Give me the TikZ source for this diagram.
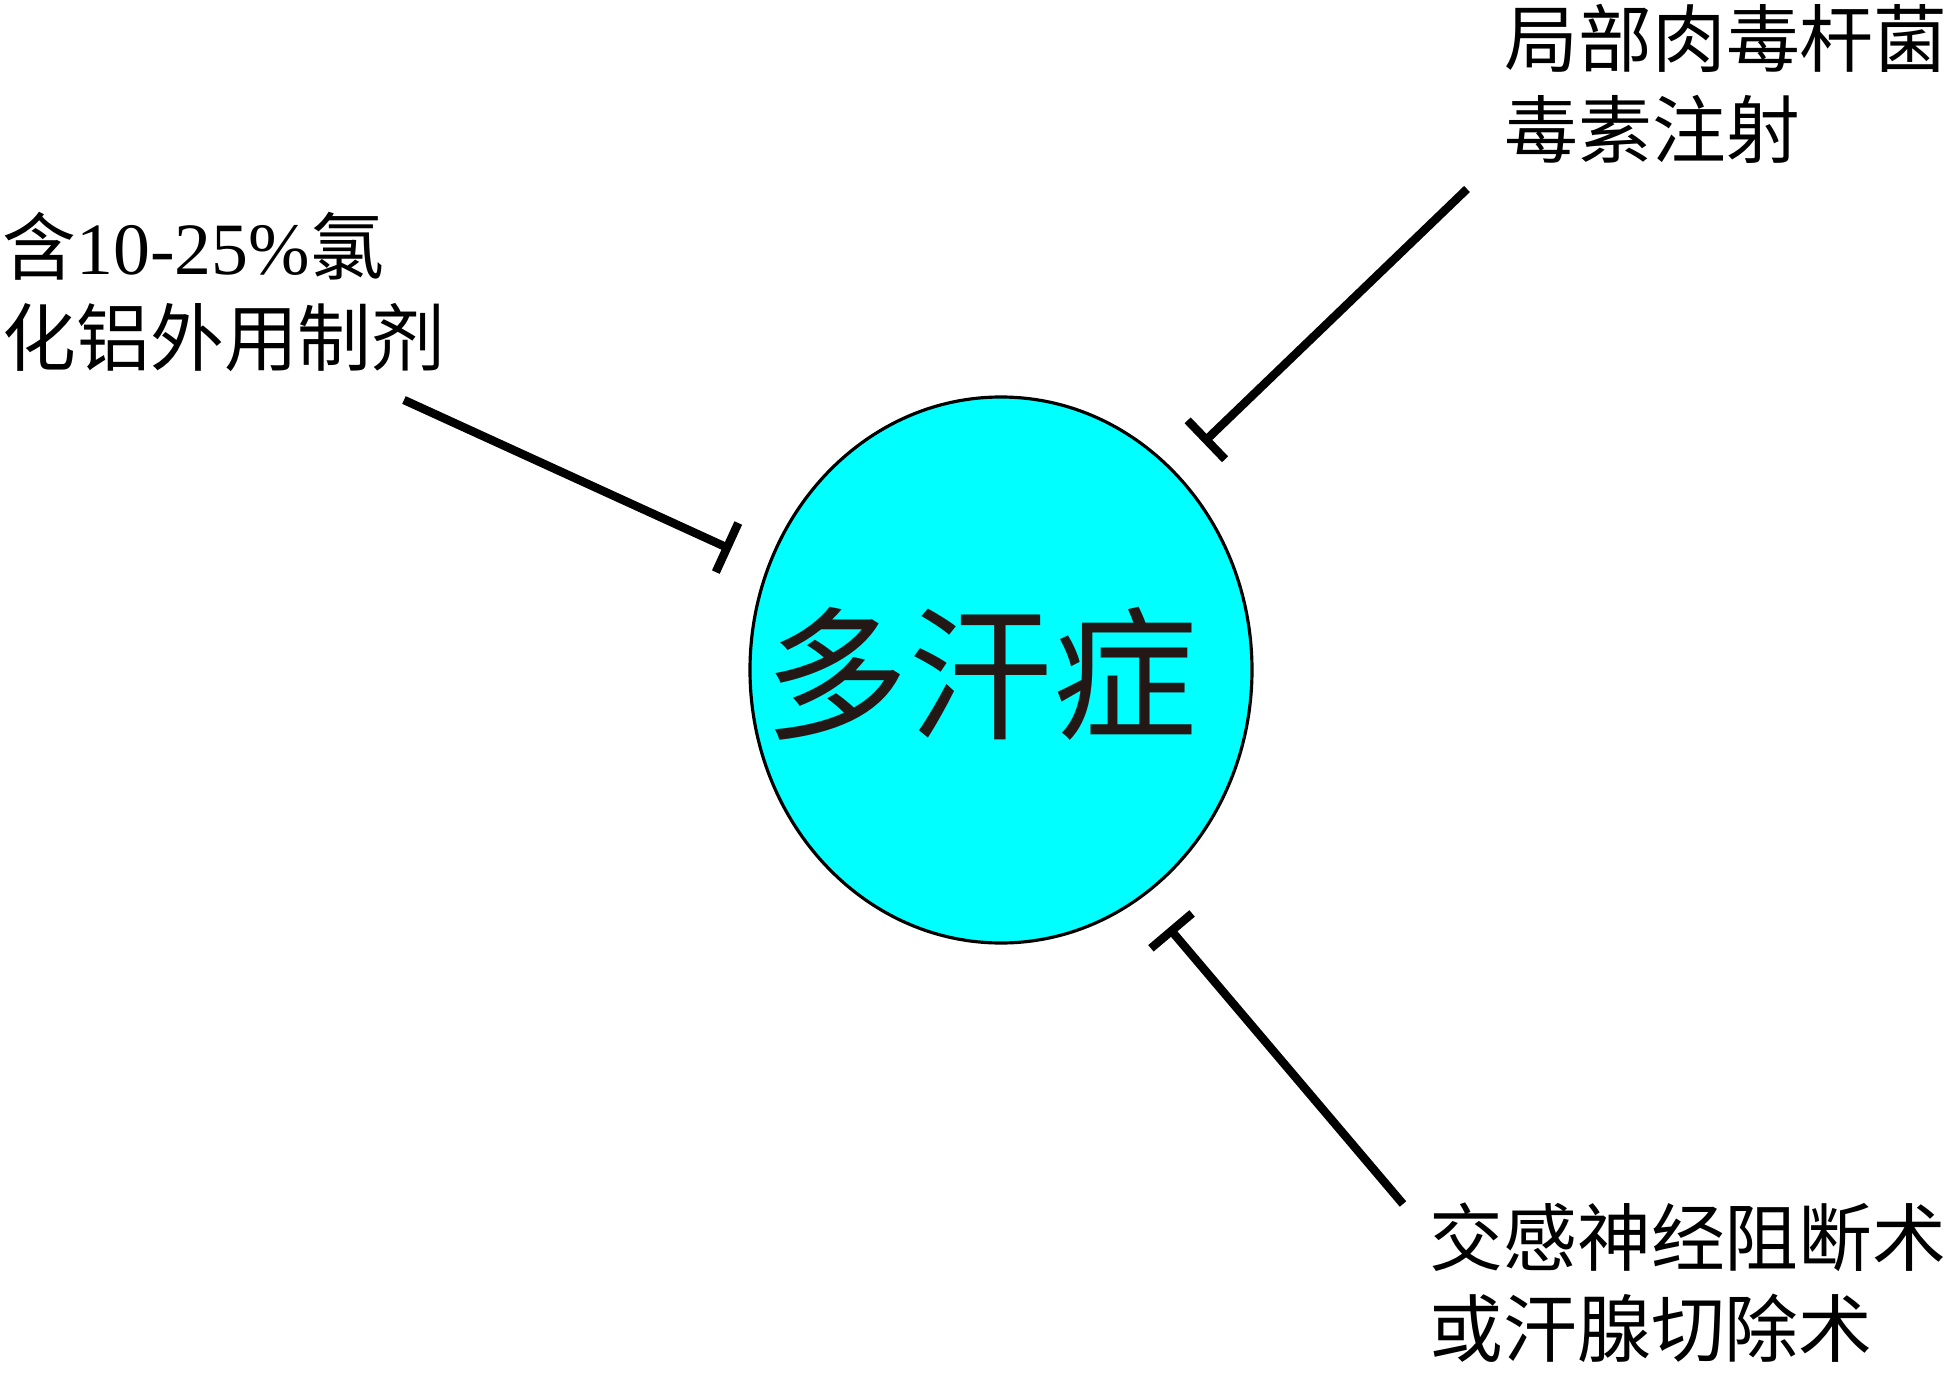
\documentclass[tikz,border=0pt]{standalone}
\usepackage{fontspec}
\setmainfont{Liberation Serif}
\newfontfamily\cjk{Noto Sans CJK SC}
\usetikzlibrary{shapes.geometric,arrows.meta}
\definecolor{sweatcyan}{HTML}{00FFFF}
\definecolor{inkbrown}{HTML}{231815}
\tikzset{
  disease/.style={ellipse,draw=black,line width=0.9pt,fill=sweatcyan,
    minimum width=5.02cm,minimum height=5.46cm,inner sep=0pt},
  remedy/.style={anchor=west,inner sep=0pt,align=left,
    font=\cjk\fontsize{21}{25.9}\selectfont},
  blocks/.style={-{Bar[width=5.4mm]},line width=2.4pt,shorten >=0.4cm}
}
\begin{document}
\begin{tikzpicture}
  \useasboundingbox (0,0) rectangle (19.5,-13.74);
  \node[disease] (hyper) at (10.01,-6.70) {};
  \node[font=\cjk\fontsize{41}{49}\selectfont,text=inkbrown,inner sep=0pt] (hyperText) at (9.81,-6.74) {多汗症};
  % treatments
  \node[remedy] (alcl) at (0.02,-2.92) {含{\rmfamily 10-25\%}氯\\化铝外用制剂};
  \node[remedy] (botox) at (15.04,-0.84) {局部肉毒杆菌\\毒素注射};
  \node[remedy] (surgery) at (14.29,-12.83) {交感神经阻断术\\或汗腺切除术};
  % free ends of the lines
  \coordinate (alclEnd) at (4.04,-4.00);
  \coordinate (botoxEnd) at (14.67,-1.89);
  \coordinate (surgeryEnd) at (14.03,-12.04);
  \draw[blocks] (alclEnd) -- (hyper.156.6); % inhibits
  \draw[blocks] (botoxEnd) -- (hyper.49);
  \draw[blocks] (surgeryEnd) -- (hyper.-58.3);
\end{tikzpicture}
\end{document}
